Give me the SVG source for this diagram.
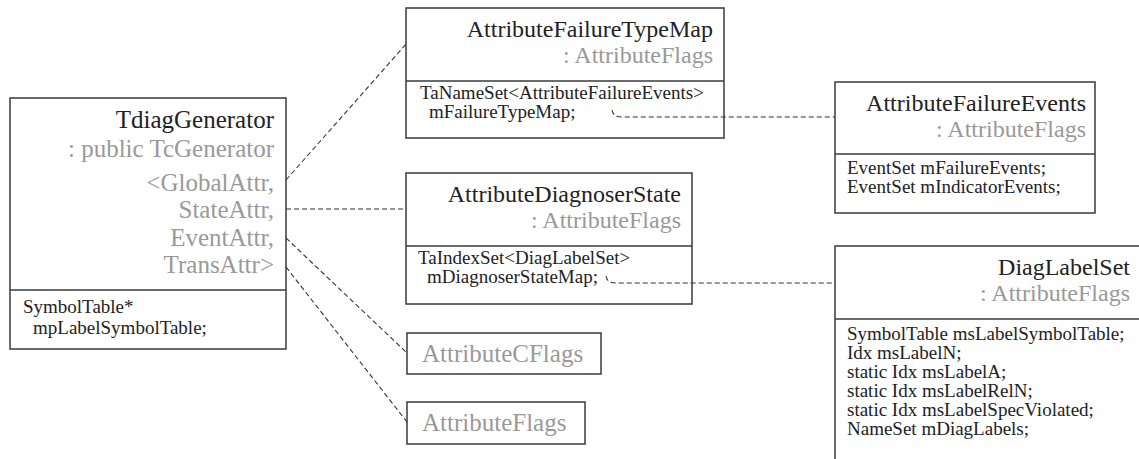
<svg xmlns="http://www.w3.org/2000/svg" width="1139" height="459" viewBox="0 0 1139 459">
<style>
.box{fill:#fff;stroke:#3a3a3a;stroke-width:1.5}
.div{stroke:#3a3a3a;stroke-width:1.5}
.t{font-family:"Liberation Serif","Times New Roman",serif;font-size:24px;fill:#222;text-anchor:end}
.g{font-family:"Liberation Serif","Times New Roman",serif;font-size:24px;fill:#999;text-anchor:end}
.gs{font-family:"Liberation Serif","Times New Roman",serif;font-size:25px;fill:#999}
.m{font-family:"Liberation Serif","Times New Roman",serif;font-size:19px;fill:#222}
.c{fill:none;stroke:#333;stroke-width:1.1;stroke-dasharray:5,3}
</style>
<rect width="1139" height="459" fill="#fff"/>
<g id="TdiagGenerator">
<rect class="box" x="10" y="98" width="276" height="251"/>
<line class="div" x1="10" y1="290" x2="286" y2="290"/>
<text class="t" x="274" y="128" style="font-size:25px">TdiagGenerator</text>
<text class="g" x="274" y="157" style="font-size:25px">: public TcGenerator</text>
<text class="g" x="274" y="191" style="font-size:25px">&lt;GlobalAttr,</text>
<text class="g" x="274" y="218" style="font-size:25px">StateAttr,</text>
<text class="g" x="274" y="246" style="font-size:25px">EventAttr,</text>
<text class="g" x="274" y="273" style="font-size:25px">TransAttr&gt;</text>
<text class="m" x="23" y="313">SymbolTable*</text>
<text class="m" x="33" y="334">mpLabelSymbolTable;</text>
</g>
<g id="AttributeFailureTypeMap">
<rect class="box" x="406" y="8" width="318" height="130"/>
<line class="div" x1="406" y1="81" x2="724" y2="81"/>
<text class="t" x="713" y="37">AttributeFailureTypeMap</text>
<text class="g" x="713" y="63">: AttributeFlags</text>
<text class="m" x="420" y="99">TaNameSet&lt;AttributeFailureEvents&gt;</text>
<text class="m" x="429" y="118">mFailureTypeMap;</text>
</g>
<g id="AttributeDiagnoserState">
<rect class="box" x="406" y="173" width="286" height="131"/>
<line class="div" x1="406" y1="246" x2="692" y2="246"/>
<text class="t" x="681" y="202">AttributeDiagnoserState</text>
<text class="g" x="681" y="228">: AttributeFlags</text>
<text class="m" x="418" y="264">TaIndexSet&lt;DiagLabelSet&gt;</text>
<text class="m" x="427" y="283">mDiagnoserStateMap;</text>
</g>
<g id="AttributeCFlags">
<rect class="box" x="407" y="333" width="194" height="41"/>
<text class="gs" x="422" y="362">AttributeCFlags</text>
</g>
<g id="AttributeFlags">
<rect class="box" x="407" y="402" width="178" height="42"/>
<text class="gs" x="422" y="431">AttributeFlags</text>
</g>
<g id="AttributeFailureEvents">
<rect class="box" x="835" y="82" width="260" height="131"/>
<line class="div" x1="835" y1="154" x2="1095" y2="154"/>
<text class="t" x="1086" y="111">AttributeFailureEvents</text>
<text class="g" x="1086" y="137">: AttributeFlags</text>
<text class="m" x="847" y="174">EventSet mFailureEvents;</text>
<text class="m" x="847" y="193">EventSet mIndicatorEvents;</text>
</g>
<g id="DiagLabelSet">
<rect class="box" x="835" y="246" width="320" height="230"/>
<line class="div" x1="835" y1="319" x2="1139" y2="319"/>
<text class="t" x="1130" y="275">DiagLabelSet</text>
<text class="g" x="1130" y="301">: AttributeFlags</text>
<text class="m" x="847" y="340">SymbolTable msLabelSymbolTable;</text>
<text class="m" x="847" y="359">Idx msLabelN;</text>
<text class="m" x="847" y="378">static Idx msLabelA;</text>
<text class="m" x="847" y="397">static Idx msLabelRelN;</text>
<text class="m" x="847" y="416">static Idx msLabelSpecViolated;</text>
<text class="m" x="847" y="435">NameSet mDiagLabels;</text>
</g>
<g id="connectors">
<path class="c" d="M286,180 L406,44"/>
<path class="c" d="M286,209 L406,209"/>
<path class="c" d="M286,238 L407,353"/>
<path class="c" d="M286,267 L407,422"/>
<path class="c" d="M612,110 Q613,117 622,117 L835,117"/>
<path class="c" d="M606,276 Q607,283 616,283 L835,283"/>
</g>
</svg>
